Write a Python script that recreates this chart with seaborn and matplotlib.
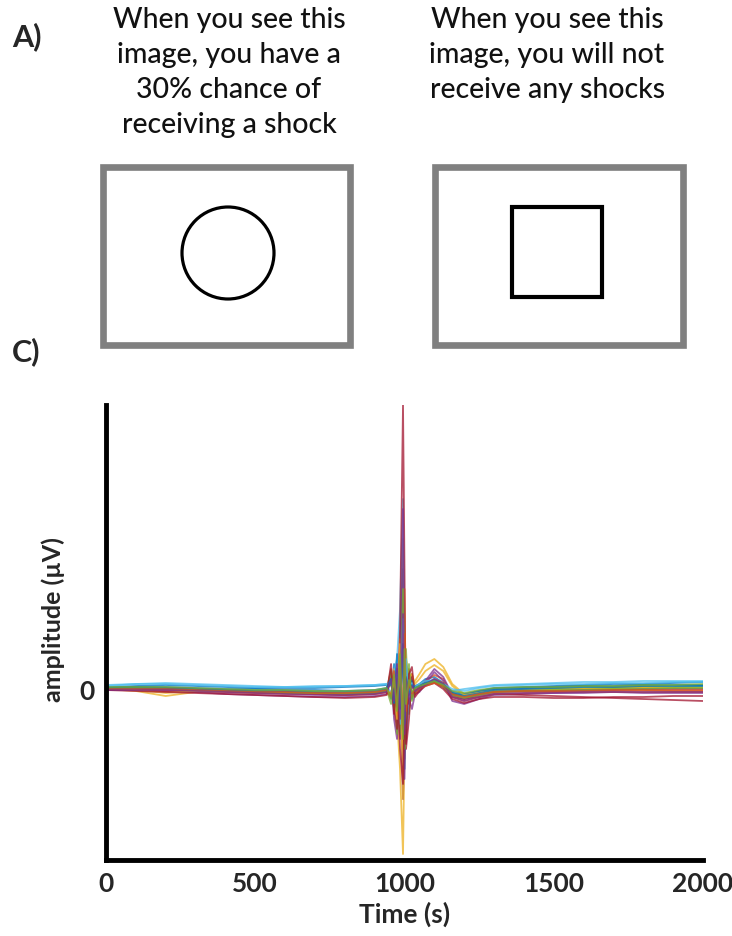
import numpy as np
import pandas as pd
import matplotlib
matplotlib.use("Agg")
import matplotlib.pyplot as plt
from matplotlib.patches import Rectangle, Circle
import seaborn as sns

# ---------------- data ----------------
time_ms = [0, 100, 200, 300, 400, 500, 600, 700, 800, 900, 940, 955, 965, 975, 985,
           995, 1000, 1005, 1015, 1025, 1035, 1050, 1070, 1100, 1130, 1160, 1200,
           1250, 1300, 1400, 1500, 1600, 1700, 1800, 1900, 2000]

trace_red1 = [0, 1, 0, -1, -2, -3, -4, -5, -6, -5, -3, 10, -20, -40, 60, 284, 120, -60, -30, 15, -5, 0, 5, 8, 2, -8, -10, -8, -5, -6, -7, -8, -9, -10, -11, -12]
trace_yel1 = [0, -2, -7, -3, -2, -3, -4, -4, -5, -4, -2, 5, 20, -30, -80, -165, -60, 30, 10, 5, 8, 15, 25, 30, 22, 5, -5, -3, -1, 0, 1, 0, 1, 2, 1, 1]
trace_lbl1 = [3, 5, 6, 5, 4, 3, 2, 2, 3, 4, 5, -5, 15, 30, 80, 190, 60, -40, -15, 10, 0, 3, 6, 10, 4, -2, 0, 2, 4, 5, 6, 7, 7, 8, 8, 8]
trace_pur1 = [-1, -1, -2, -3, -5, -6, -7, -8, -8, -7, -5, 15, -30, -50, 20, -110, -40, 25, -10, -20, -5, -3, 5, 17, 8, -12, -15, -10, -6, -5, -4, -4, -3, -4, -4, -4]
trace_blu1 = [2, 3, 4, 3, 2, 1, 1, 1, 2, 3, 4, -10, 25, -20, 40, 120, -30, -50, 5, -10, 3, 5, 10, 12, 6, -5, -6, -2, 1, 2, 3, 4, 5, 5, 6, 7]
trace_ora1 = [0, 0, -1, -2, -3, -4, -5, -5, -6, -4, -2, 20, -15, 20, -40, 90, -70, 10, 20, -5, -2, 2, 8, 14, 10, -6, -10, -6, -3, -2, -2, -1, -1, -1, -2, -2]
trace_gre1 = [1, 2, 1, 0, -1, -2, -3, -3, -4, -3, 0, -15, 10, -45, 30, 150, -50, 40, -25, 12, 0, 4, 7, 9, 3, -4, -8, -5, -2, -1, 0, 1, 1, 2, 2, 3]
trace_red2 = [-1, -2, -3, -4, -5, -6, -7, -8, -9, -8, -6, 25, -25, 10, -60, -95, -20, -55, 15, 22, -8, -2, 3, 6, 0, -10, -14, -10, -8, -8, -9, -9, -8, -8, -7, -7]
trace_blu2 = [1, 2, 2, 1, 0, 0, -1, -1, -2, -1, 1, 5, -10, 35, -30, 60, -80, 20, -5, 8, 2, 3, 5, 8, 4, -3, -5, -2, 0, 1, 2, 3, 3, 4, 4, 4]
trace_ora2 = [-1, -1, -2, -2, -3, -4, -4, -5, -6, -5, -3, -8, 18, -25, 50, -60, 100, -30, 10, -8, -4, 0, 4, 10, 6, -8, -12, -8, -5, -4, -3, -3, -3, -3, -3, -3]
trace_pur2 = [0, 1, 1, 0, -1, -2, -3, -4, -5, -4, -2, 12, -18, 25, -50, 180, -90, 15, -15, 5, -3, 2, 8, 20, 12, -6, -10, -6, -3, -2, -2, -1, -1, 0, 0, 0]
trace_lbl2 = [4, 5, 5, 4, 3, 2, 2, 3, 3, 4, 5, 8, -12, 15, -35, 70, -40, 30, -8, 6, 2, 5, 8, 9, 5, 0, -2, 1, 3, 4, 5, 5, 6, 6, 7, 7]
trace_yel2 = [0, -1, -4, -2, -2, -2, -3, -4, -4, -3, -1, -5, 10, -30, 45, -110, 30, -20, 12, 15, 5, 10, 18, 24, 18, 3, -6, -4, -2, -1, -1, 0, 0, 1, 1, 1]
trace_gre2 = [0, 1, 0, -1, -2, -3, -4, -4, -5, -4, -2, 18, -20, 12, -45, 100, -60, -30, 25, -12, -2, 1, 5, 7, 2, -6, -9, -6, -3, -2, -1, -1, 0, 0, 1, 1]
trace_blu3 = [1, 1, 1, 0, -1, -2, -2, -3, -3, -2, 0, 10, -14, 18, -20, 45, -35, 12, -6, 4, 1, 3, 6, 9, 5, -4, -7, -4, -1, 0, 1, 2, 2, 3, 3, 3]
trace_ora3 = [0, 0, 0, -1, -2, -3, -3, -4, -4, -3, -1, -6, 12, -18, 28, -40, 55, -22, 8, -4, -1, 1, 3, 6, 3, -5, -8, -5, -3, -2, -2, -2, -1, -1, -1, -1]
trace_pur3 = [-1, -1, -1, -2, -3, -4, -5, -6, -6, -5, -3, 9, -12, 20, -30, 75, -45, 10, -10, 3, -2, 1, 4, 10, 5, -8, -12, -8, -5, -4, -4, -3, -3, -3, -3, -3]
trace_gre3 = [2, 2, 2, 1, 0, -1, -1, -2, -2, -1, 1, -9, 14, -22, 35, -50, 40, -15, 9, -3, 1, 3, 5, 8, 4, -2, -4, -1, 1, 2, 2, 3, 3, 4, 4, 5]

trace_names = ["ch1", "ch2", "ch3", "ch4", "ch5", "ch6", "ch7",
               "ch8", "ch9", "ch10", "ch11", "ch12", "ch13", "ch14",
               "ch15", "ch16", "ch17", "ch18"]
trace_values = [trace_blu1, trace_ora1, trace_yel1, trace_pur1, trace_gre1, trace_lbl1, trace_red1,
                trace_blu2, trace_ora2, trace_yel2, trace_pur2, trace_gre2, trace_lbl2, trace_red2,
                trace_blu3, trace_ora3, trace_pur3, trace_gre3]
trace_colors = ["#0072BD", "#D95319", "#EDB120", "#7E2F8E", "#77AC30", "#4DBEEE", "#A2142F",
                "#0072BD", "#D95319", "#EDB120", "#7E2F8E", "#77AC30", "#4DBEEE", "#A2142F",
                "#0072BD", "#D95319", "#7E2F8E", "#77AC30"]

x_ticks = [0, 500, 1000, 1500, 2000]
y_ticks = [0]

left_caption = "When you see this\nimage, you have a\n30% chance of\nreceiving a shock"
right_caption = "When you see this\nimage, you will not\nreceive any shocks"

# ---------------- figure ----------------
sns.set_style("white")
plt.rcParams["font.family"] = ["Lato", "DejaVu Sans"]

W, H = 732, 937
fig = plt.figure(figsize=(W / 100, H / 100), dpi=100)

# overlay in pixel coordinates for panel A
ov = fig.add_axes([0, 0, 1, 1])
ov.set_xlim(0, W)
ov.set_ylim(H, 0)
ov.axis("off")

ov.text(12, 37, "A)", fontsize=22, fontweight="bold", ha="left", va="center")
ov.text(229, 7, left_caption, fontsize=20.5, fontweight="medium", ha="center", va="top",
        linespacing=1.43, color="#111111")
ov.text(547, 7, right_caption, fontsize=20.5, fontweight="medium", ha="center", va="top",
        linespacing=1.43, color="#111111")

gray = "#808080"
ov.add_patch(Rectangle((103, 168), 247, 178, fill=False, ec=gray, lw=4.8))
ov.add_patch(Rectangle((435, 168), 248, 178, fill=False, ec=gray, lw=4.8))
ov.add_patch(Circle((228, 254), 46, fill=False, ec="black", lw=2.3))
ov.add_patch(Rectangle((512, 208), 90, 90, fill=False, ec="black", lw=3))

ov.text(12, 352, "C)", fontsize=22, fontweight="bold", ha="left", va="center")

# panel C axes
ax = fig.add_axes([106 / W, 76 / H, (703 - 106) / W, (861 - 406) / H])
df = pd.DataFrame({
    "time": np.tile(time_ms, len(trace_names)),
    "amp": np.concatenate(trace_values),
    "trace": np.repeat(trace_names, len(time_ms)),
})
sns.lineplot(data=df, x="time", y="amp", hue="trace", palette=trace_colors,
             hue_order=trace_names, legend=False, ax=ax, lw=1.3, alpha=0.75,
             estimator=None)

ax.set_xlim(0, 2000)
ax.set_ylim(-171, 284)
ax.set_xticks(x_ticks)
ax.set_yticks(y_ticks)
ax.set_xticklabels([str(v) for v in x_ticks], fontsize=19, fontweight="bold")
ax.set_yticklabels([str(v) for v in y_ticks], fontsize=19, fontweight="bold")
ax.tick_params(length=0, pad=8)
for s in ["top", "right"]:
    ax.spines[s].set_visible(False)
for s in ["left", "bottom"]:
    ax.spines[s].set_linewidth(3.5)
    ax.spines[s].set_color("black")
    ax.spines[s].set_capstyle("projecting")
ax.set_xlabel("Time (s)", fontsize=19, fontweight="bold", labelpad=4)
ax.set_ylabel("amplitude (µV)", fontsize=18, fontweight="bold")
ax.yaxis.set_label_coords(-0.068, 0.53)
ax.set_facecolor("none")

fig.savefig("out.png", dpi=100)
